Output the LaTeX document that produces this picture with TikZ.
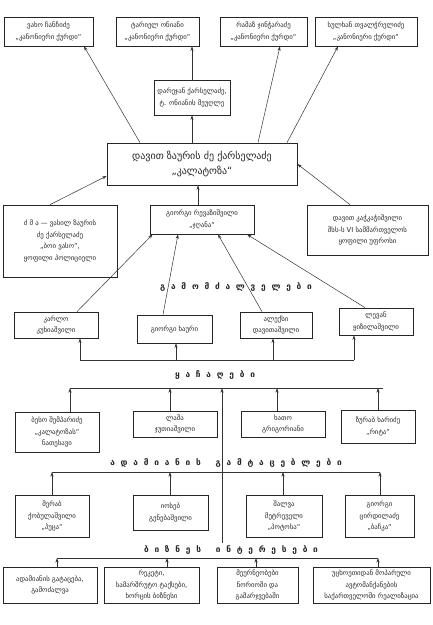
\documentclass[tikz,border=0pt]{standalone}
\usepackage{fontspec}
\setmainfont{DejaVu Sans}
\usetikzlibrary{arrows.meta,calc}
\begin{document}
\begin{tikzpicture}[x=1pt,y=-1pt,
  bx/.style={draw=black!85, line width=0.7pt, align=center, inner sep=1pt, text=black!85,
    font=\fontsize{6.8}{11.5}\selectfont},
  bigbx/.style={bx, font=\fontsize{10}{15}\selectfont},
  arr/.style={draw=black!80, line width=0.5pt, -{Stealth[length=4.5pt,width=3pt]}},
  ln/.style={draw=black!80, line width=0.5pt},
  hd/.style={inner sep=0pt, text=black!85, font=\fontsize{8.3}{9}\bfseries\selectfont}
]
\fill[white] (0,0) rectangle (433,625);
\useasboundingbox (0,0) rectangle (433,625);

% top row
\node[bx, minimum width=89pt, minimum height=29pt] (t1) at (48.5,31.5) {ვახო ჩანჩიძე\\„კანონიერი ქურდი“};
\node[bx, minimum width=83pt, minimum height=29pt] (t2) at (157.5,31.5) {ტარიელ ონიანი\\„კანონიერი ქურდი“};
\node[bx, minimum width=87pt, minimum height=29pt] (t3) at (263.5,31.5) {რამაზ ჯინჭარაძე\\„კანონიერი ქურდი“};
\node[bx, minimum width=102pt, minimum height=29pt] (t4) at (366,31.5) {სულხან თვალჭრელიძე\\„კანონიერი ქურდი“};

\node[bx, minimum width=76pt, minimum height=35pt] (dar) at (192,97.5) {დარეჯან ქარსელაძე,\\ტ. ონიანის მეუღლე};
\node[bigbx, minimum width=190pt, minimum height=42pt] (kal) at (202,164) {დავით ზაურის ძე ქარსელაძე\\„კალატოზა“};

\node[bx, minimum width=114pt, minimum height=72pt] (bro) at (60,241) {ძ მ ა — ვასილ ზაურის\\ძე ქარსელაძე\\„ბოი ვასო“,\\ყოფილი პოლიციელი};
\node[bx, minimum width=104pt, minimum height=29pt] (jg) at (202,219.5) {გიორგი რევაზიშვილი\\„ჯღანა“};
\node[bx, minimum width=121pt, minimum height=50pt] (kach) at (367.5,230) {დავით კაჭკაჭიშვილი\\შსს-ს VI სამმართველოს\\ყოფილი უფროსი};

% arrows top part
\draw[arr] ([xshift=-62pt]kal.north) -- ([xshift=35.5pt]t1.south);
\draw[arr] (dar.north) -- (dar.north |- t2.south);
\draw[arr] ([xshift=56pt]kal.north) -- ([xshift=16.5pt]t3.south);
\draw[arr] ([xshift=85pt]kal.north) -- ([xshift=-28pt]t4.south);
\draw[arr] (dar.south |- kal.north) -- (dar.south);
\draw[arr] ([xshift=-4pt]jg.north) -- ([xshift=-4pt]kal.south);
\draw[arr] ([xshift=-10pt]bro.north) -- ([yshift=-12pt]kal.west);
\draw[arr] ([xshift=-17.5pt]kach.north) -- (kal.east);

% extortionists
\node[hd] (h1) at (236,287) {\spaceskip=5.8pt\relax გ ა მ ო მ ძ ა ლ ვ ე ლ ე ბ ი};
\node[bx, minimum width=84pt, minimum height=26pt] (e1) at (56,325) {კარლო\\კუხიაშვილი};
\node[bx, minimum width=75pt, minimum height=28pt] (e2) at (174.5,329) {გიორგი ხაური};
\node[bx, minimum width=72pt, minimum height=26pt] (e3) at (276,325) {ალექსი\\დავითაშვილი};
\node[bx, minimum width=74pt, minimum height=27pt] (e4) at (376,321.5) {ლევან\\ყიზილაშვილი};

\draw[arr] ([xshift=21pt]e1.north) -- ([xshift=3pt]jg.south west);
\draw[arr] ([xshift=-11.5pt]e2.north) -- ([xshift=-24pt]jg.south);
\draw[arr] ([xshift=-14pt]e3.north) -- ([xshift=16pt]jg.south);
\draw[arr] ([xshift=-11pt]e4.north) -- ([xshift=45pt]jg.south);

\coordinate (eb1) at (80,360);
\coordinate (eb2) at (176,360);
\coordinate (eb3) at (273,360);
\coordinate (eb4) at (354,360);
\draw[ln] (eb1) -- (eb4);
\draw[arr] (eb1) -- (eb1 |- e1.south);
\draw[arr] (eb2) -- (eb2 |- e2.south);
\draw[arr] (eb3) -- (eb3 |- e3.south);
\draw[arr] (eb4) -- (eb4 |- e4.south);

% robbers
\node[hd] (h2) at (215,375) {\spaceskip=5.8pt\relax ყ ა ჩ ა ღ ე ბ ი};
\coordinate (rl) at (70,388);
\coordinate (rr) at (383,388);
\draw[ln] (rl) -- (rr);
\node[bx, minimum width=84pt, minimum height=40pt] (r1) at (57,432) {ბესო შემპარიძე\\„კალატოზას“\\ნათესავი};
\node[bx, minimum width=84pt, minimum height=26pt] (r2) at (175,424) {ლაშა\\ჯუთიაშვილი};
\node[bx, minimum width=84pt, minimum height=26pt] (r3) at (283,424) {ხათო\\გრიგორიანი};
\node[bx, minimum width=74pt, minimum height=33pt] (r4) at (378,426.5) {ზურაბ ხარიძე\\„რიტა“};
\coordinate (rb1) at (70,388);
\coordinate (rb2) at (170,388);
\coordinate (rb3) at (277,388);
\coordinate (rb4) at (378,388);
\draw[arr] (rb1 |- r1.north) -- (rb1);
\draw[arr] (rb2 |- r2.north) -- (rb2);
\draw[arr] (rb3 |- r3.north) -- (rb3);
\draw[arr] (rb4 |- r4.north) -- (rb4);

% kidnappers
\node[hd] (h3) at (226,463) {\spaceskip=5.8pt\relax ა დ ა მ ი ა ნ ი ს\hspace{9pt} გ ა მ ტ ა ც ე ბ ლ ე ბ ი};
\coordinate (kl) at (52,472);
\coordinate (kr) at (380,472);
\draw[ln] (kl) -- (kr);
\node[bx, minimum width=74pt, minimum height=42pt] (k1) at (52,516) {მერაბ\\ქობულაშვილი\\„პუცა“};
\node[bx, minimum width=75pt, minimum height=35pt] (k2) at (170.5,512.5) {იოსებ\\გენებაშვილი};
\node[bx, minimum width=76pt, minimum height=42pt] (k3) at (284,516) {შალვა\\მეტრეველი\\„პოტოსა“};
\node[bx, minimum width=69pt, minimum height=42pt] (k4) at (379.5,516) {გიორგი\\ცირდილაძე\\„ბაჩკა“};
\coordinate (kb1) at (52,472);
\coordinate (kb2) at (170,472);
\coordinate (kb3) at (283,472);
\coordinate (kb4) at (380,472);
\draw[arr] (kb1 |- k1.north) -- (kb1);
\draw[arr] (kb2 |- k2.north) -- (kb2);
\draw[arr] (kb3 |- k3.north) -- (kb3);
\draw[arr] (kb4 |- k4.north) -- (kb4);

% business
\node[hd] (h4) at (231,550) {\spaceskip=5.8pt\relax ბ ი ზ ნ ე ს\hspace{9pt} ი ნ ტ ე რ ე ს ე ბ ი};
\coordinate (bl) at (57,558);
\coordinate (br) at (378,558);
\draw[ln] (bl) -- (br);
\node[bx, minimum width=94pt, minimum height=36pt] (b1) at (50,585) {ადამიანის გატაცება,\\გამოძალვა};
\node[bx, minimum width=95pt, minimum height=36pt] (b2) at (151.5,585) {რეკეტი,\\სამარშრუტო ტაქსები,\\ხორცის ბიზნესი};
\node[bx, minimum width=81pt, minimum height=36pt] (b3) at (257.5,585) {მეურნეობები\\ნორიოში და\\გამარჯვებაში};
\node[bx, minimum width=117pt, minimum height=36pt] (b4) at (371.5,585) {უცხოეთიდან მოპარული\\ავტომანქანების\\საქართველოში რეალიზაცია};
\coordinate (bb1) at (57,558);
\coordinate (bb2) at (167,558);
\coordinate (bb3) at (256,558);
\coordinate (bb4) at (378,558);
\draw[arr] (bb1 |- b1.north) -- (bb1);
\draw[arr] (bb2 |- b2.north) -- (bb2);
\draw[arr] (bb3 |- b3.north) -- (bb3);
\draw[arr] (bb4 |- b4.north) -- (bb4);

% trunk
\coordinate (trb) at (222,543);
\draw[arr] (trb) -- (trb |- rl);
\end{tikzpicture}
\end{document}
